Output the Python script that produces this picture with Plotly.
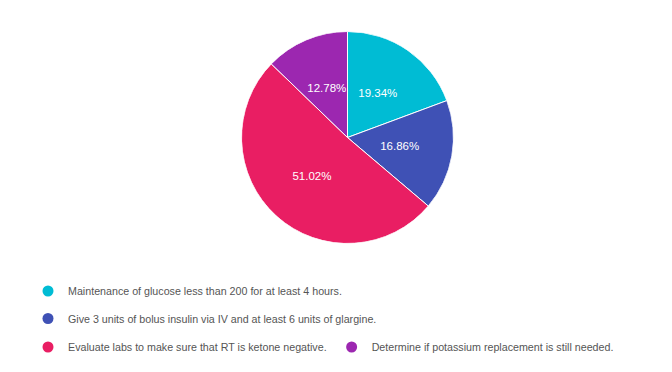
import plotly.graph_objects as go
import numpy as np

labels = [
    "Maintenance of glucose less than 200 for at least 4 hours.",
    "Give 3 units of bolus insulin via IV and at least 6 units of glargine.",
    "Evaluate labs to make sure that RT is ketone negative.",
    "Determine if potassium replacement is still needed.",
]
values = [19.34, 16.86, 51.02, 12.78]
colors = ["#00BCD4", "#3F51B5", "#E91E63", "#9C27B0"]
legend_ids = ["legend", "legend2", "legend3", "legend3"]

FONT = "Liberation Sans, Arial, sans-serif"
W, H = 672, 372

vals = np.array(values, dtype=float)
frac = vals / vals.sum()
widths = frac * 360.0
mids = np.cumsum(widths) - widths / 2
pct_text = [f"{p:.2%}" for p in frac]

fig = go.Figure()
fig.add_trace(go.Barpolar(
    r=[1] * len(values), theta=mids, width=widths, base=0,
    marker=dict(color=colors, line=dict(color="white", width=1)),
    customdata=np.column_stack([labels, pct_text]),
    hovertemplate="%{customdata[0]}<br>%{customdata[1]}<extra></extra>",
    showlegend=False,
))
fig.add_trace(go.Scatterpolar(
    r=[0.5] * len(values), theta=mids, mode="text", text=pct_text,
    textposition="middle center",
    textfont=dict(color="white", size=11.5, family=FONT),
    hoverinfo="skip", showlegend=False,
))

for lab, col, lg in zip(labels, colors, legend_ids):
    fig.add_trace(go.Scatterpolar(
        r=[None], theta=[None], mode="markers", name=lab, legend=lg,
        marker=dict(color=col, size=11, symbol="circle"),
        hoverinfo="skip",
    ))

legfont = dict(family=FONT, size=10.7, color="#555555")
common = dict(xanchor="left", yanchor="middle", font=legfont,
              bgcolor="rgba(0,0,0,0)", borderwidth=0, itemclick=False,
              itemdoubleclick=False)
fig.update_layout(
    width=W, height=H,
    margin=dict(l=0, r=0, t=0, b=0),
    paper_bgcolor="white",
    polar=dict(
        domain=dict(x=[241.5 / W, 453.5 / W], y=[(H - 243.5) / H, (H - 31.5) / H]),
        bgcolor="rgba(0,0,0,0)", bargap=0,
        radialaxis=dict(range=[0, 1], visible=False, showgrid=False),
        angularaxis=dict(rotation=90, direction="clockwise", visible=False,
                         showgrid=False, showline=False, ticks=""),
    ),
    legend=dict(x=28 / W, y=(H - 291) / H, **common),
    legend2=dict(x=28 / W, y=(H - 318.5) / H, **common),
    legend3=dict(x=28 / W, y=(H - 347) / H, orientation="h", **common),
)

fig.write_html("out.html", config={"displayModeBar": False},
               post_script="document.body.style.margin='0px';")
